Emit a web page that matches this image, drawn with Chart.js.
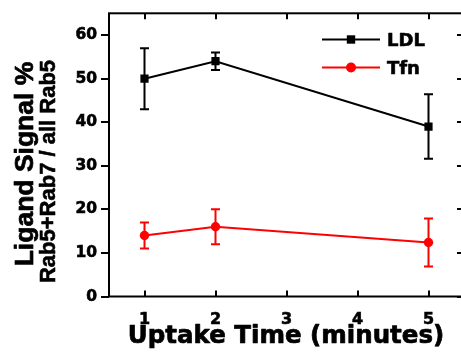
<!DOCTYPE html>
<html>
<head>
<meta charset="utf-8">
<script src="https://cdn.jsdelivr.net/npm/chart.js@4"></script>
<style>
html,body{margin:0;padding:0;background:#fff;overflow:hidden;}
canvas{display:block;}
</style>
</head>
<body>
<canvas id="c" width="470" height="356"></canvas>
<script>
const xValues = [1, 2, 5];
const ldlValues = [50, 54, 39];
const ldlErrors = [7, 2, 7.4];
const tfnValues = [14, 16, 12.4];
const tfnErrors = [3, 4, 5.5];
const xTicks = [1, 2, 3, 4, 5];
const yTicks = [0, 10, 20, 30, 40, 50, 60];
const seriesNames = ['LDL', 'Tfn'];
const xTitle = 'Uptake Time (minutes)';
const yTitle1 = 'Ligand Signal %';
const yTitle2 = 'Rab5+Rab7 / all Rab5';

const TICK_FONT = 'DejaVu Sans';

function pts(vals, errs) {
  return xValues.map((x, i) => ({x: x, y: vals[i], err: errs[i]}));
}

function boldText(ctx, text, x, y, sw) {
  ctx.lineWidth = sw;
  ctx.strokeStyle = ctx.fillStyle;
  ctx.lineJoin = 'round';
  ctx.strokeText(text, x, y);
  ctx.fillText(text, x, y);
}

const framePlugin = {
  id: 'frame',
  beforeDatasetsDraw(chart) {
    const ctx = chart.ctx;
    const xs = chart.scales.x, ys = chart.scales.y;
    chart.data.datasets.forEach((ds) => {
      ctx.save();
      ctx.strokeStyle = ds.borderColor;
      ctx.lineWidth = 2;
      ds.data.forEach(p => {
        const px = xs.getPixelForValue(p.x);
        const yt = ys.getPixelForValue(p.y + p.err);
        const yb = ys.getPixelForValue(p.y - p.err);
        ctx.beginPath();
        ctx.moveTo(px, yt); ctx.lineTo(px, yb);
        ctx.moveTo(px - 4.5, yt); ctx.lineTo(px + 4.5, yt);
        ctx.moveTo(px - 4.5, yb); ctx.lineTo(px + 4.5, yb);
        ctx.stroke();
      });
      ctx.restore();
    });
  },
  afterDraw(chart) {
    const ctx = chart.ctx;
    const a = chart.chartArea;
    const xs = chart.scales.x, ys = chart.scales.y;
    ctx.save();
    ctx.strokeStyle = '#000';
    ctx.lineWidth = 2;
    ctx.strokeRect(a.left, a.top, a.right - a.left, a.bottom - a.top);
    ctx.beginPath();
    xTicks.forEach(v => {
      const px = Math.round(xs.getPixelForValue(v));
      ctx.moveTo(px, a.top); ctx.lineTo(px, a.top + 6);
      ctx.moveTo(px, a.bottom); ctx.lineTo(px, a.bottom - 6);
    });
    yTicks.forEach(v => {
      const py = Math.round(ys.getPixelForValue(v));
      ctx.moveTo(a.right, py); ctx.lineTo(a.right - 7, py);
    });
    ctx.stroke();

    // legend
    const legY = [39.5, 67.5];
    chart.data.datasets.forEach((ds, i) => {
      const y = legY[i];
      ctx.strokeStyle = ds.borderColor;
      ctx.lineWidth = 2;
      ctx.beginPath();
      ctx.moveTo(322, y); ctx.lineTo(380, y);
      ctx.stroke();
      ctx.fillStyle = ds.borderColor;
      if (ds.pointStyle === 'rect') {
        ctx.fillRect(351 - 4.2, y - 4.2, 8.4, 8.4);
      } else {
        ctx.beginPath();
        ctx.arc(351, y, 5, 0, Math.PI * 2);
        ctx.fill();
      }
      ctx.fillStyle = '#000';
      ctx.font = 'bold 18px "' + TICK_FONT + '"';
      ctx.textAlign = 'left';
      ctx.textBaseline = 'alphabetic';
      boldText(ctx, ds.label, 387, y + 6.5, 0.6);
    });

    // x title
    ctx.fillStyle = '#000';
    ctx.font = 'bold 24.5px "' + TICK_FONT + '"';
    ctx.textAlign = 'center';
    ctx.textBaseline = 'alphabetic';
    boldText(ctx, xTitle, 286, 343, 0.7);

    // y titles
    ctx.save();
    ctx.translate(33, 164);
    ctx.rotate(-Math.PI / 2);
    ctx.font = 'bold 26.5px "Liberation Sans"';
    ctx.textAlign = 'center';
    boldText(ctx, yTitle1, 0, 0, 0.7);
    ctx.restore();
    ctx.save();
    ctx.translate(54.5, 171.5);
    ctx.rotate(-Math.PI / 2);
    ctx.font = 'bold 22px "Liberation Sans"';
    ctx.textAlign = 'center';
    boldText(ctx, yTitle2, 0, 0, 0.6);
    ctx.restore();
    ctx.restore();
  }
};

new Chart(document.getElementById('c'), {
  type: 'line',
  data: {
    datasets: [
      {
        label: seriesNames[0],
        data: pts(ldlValues, ldlErrors),
        borderColor: '#000000',
        backgroundColor: '#000000',
        borderWidth: 2,
        pointStyle: 'rect',
        pointRadius: 5.8,
        pointBorderWidth: 0,
        tension: 0
      },
      {
        label: seriesNames[1],
        data: pts(tfnValues, tfnErrors),
        borderColor: '#ff0000',
        backgroundColor: '#ff0000',
        borderWidth: 2,
        pointStyle: 'circle',
        pointRadius: 4.7,
        pointBorderWidth: 0,
        tension: 0
      }
    ]
  },
  options: {
    responsive: false,
    animation: false,
    devicePixelRatio: 1,
    layout: {padding: {left: 0, top: 9, right: 6, bottom: 0}},
    plugins: {legend: {display: false}, tooltip: {enabled: false}},
    elements: {point: {hoverRadius: 5}},
    scales: {
      x: {
        type: 'linear',
        min: 0.5,
        max: 5.5,
        afterBuildTicks(s) { s.ticks = xTicks.map(v => ({value: v})); },
        afterFit(s) { s.height = 59.5; },
        grid: {display: false},
        border: {display: false},
        ticks: {
          color: '#000',
          padding: 6,
          maxRotation: 0,
          textStrokeColor: '#000',
          textStrokeWidth: 0.6,
          font: {family: TICK_FONT, size: 16, weight: 'bold'}
        }
      },
      y: {
        type: 'linear',
        min: 0,
        max: 65,
        afterBuildTicks(s) { s.ticks = yTicks.map(v => ({value: v})); },
        afterFit(s) { s.width = 109; },
        grid: {drawOnChartArea: false, drawTicks: true, tickLength: 8, color: '#000', lineWidth: 2},
        border: {display: false},
        ticks: {
          color: '#000',
          padding: 4,
          textStrokeColor: '#000',
          textStrokeWidth: 0.6,
          font: {family: TICK_FONT, size: 15.5, weight: 'bold'}
        }
      }
    }
  },
  plugins: [framePlugin]
});
</script>
</body>
</html>
